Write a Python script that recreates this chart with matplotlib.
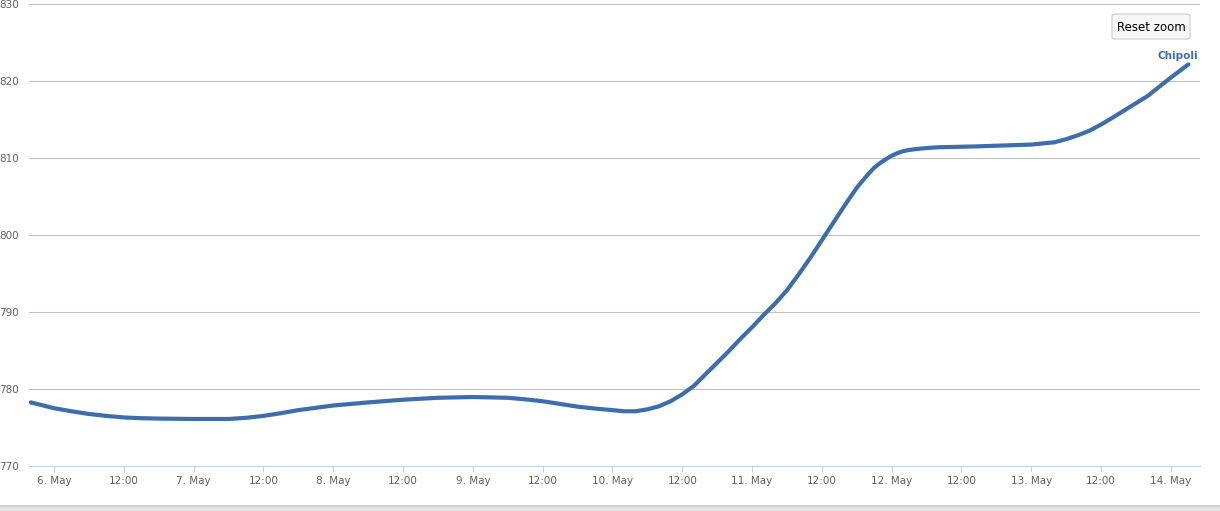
"""
Chipoli price over a week, spline-like line chart
"""

from datetime import datetime, timedelta

import matplotlib
matplotlib.use("Agg")
from matplotlib import pyplot as plt
from matplotlib import dates as mdates
from matplotlib.patches import FancyBboxPatch, Rectangle
from matplotlib.ticker import FuncFormatter, MultipleLocator

# hours after 6 May 00:00
hours = [-4, 0, 3, 6, 9, 12, 15, 18, 24, 30, 33, 36, 39, 42, 45, 48, 54, 60,
         66, 72, 78, 81, 84, 87, 90, 93, 96, 98, 100, 102, 104, 106, 108,
         110, 112, 114, 116, 118, 120, 122, 124, 126, 128, 130, 132, 134,
         136, 138, 140, 141, 142, 143, 144, 145, 146, 147, 148, 150, 152,
         158, 164, 168, 172, 174, 176, 178, 180, 182, 185, 188, 190, 192,
         195]
values = [778.25, 777.5, 777.1, 776.75, 776.5, 776.3, 776.2, 776.15, 776.1,
          776.1, 776.25, 776.5, 776.85, 777.25, 777.55, 777.85, 778.25,
          778.6, 778.85, 778.95, 778.85, 778.65, 778.4, 778.05, 777.7, 777.45,
          777.25, 777.1, 777.1, 777.35, 777.75, 778.4, 779.3, 780.4, 781.9,
          783.4, 784.9, 786.5, 788.0, 789.6, 791.1, 792.8, 794.85, 797.0,
          799.3, 801.6, 803.9, 806.1, 807.9, 808.7, 809.3, 809.8, 810.25,
          810.6, 810.85, 811.0, 811.1, 811.25, 811.35, 811.45, 811.6, 811.7,
          812.0, 812.4, 812.9, 813.5, 814.3, 815.2, 816.6, 818.0, 819.2,
          820.4, 822.1]
series_name = "Chipoli"
start = datetime(2013, 5, 6)
times = [start + timedelta(hours=h) for h in hours]

blue = "#3D6DAB"
grey_text = "#606060"

fig = plt.figure(figsize=(12.2, 5.11), dpi=100)
ax = fig.add_axes([29 / 1220, 45 / 511, 1171 / 1220, 462.5 / 511])

ax.plot(times, values, color=blue, lw=3, solid_capstyle="round",
        solid_joinstyle="round", zorder=3)

ax.set_xlim(start - timedelta(hours=4.3), start + timedelta(hours=197))
ax.set_ylim(770, 830)

# y grid
ax.yaxis.set_major_locator(MultipleLocator(10))
ax.grid(axis="y", color="#C0C0C0", lw=0.75)
ax.tick_params(axis="y", length=0, pad=7, labelsize=7.5, labelcolor=grey_text)

# x axis: ticks every 12 hours
ax.xaxis.set_major_locator(mdates.HourLocator(byhour=[0, 12]))


def fmt_date(x, pos):
    d = mdates.num2date(x)
    if d.hour == 0:
        return f"{d.day}. May"
    return d.strftime("%H:%M")


ax.xaxis.set_major_formatter(FuncFormatter(fmt_date))
ax.tick_params(axis="x", length=4, width=0.75, color="#C0D0E0", pad=3,
               labelsize=7.5, labelcolor=grey_text)

for side in ["top", "right", "left"]:
    ax.spines[side].set_visible(False)
ax.spines["bottom"].set_color("#C0D0E0")
ax.spines["bottom"].set_linewidth(0.75)

# series label at the end of the line
ax.annotate(series_name, xy=(times[-1], values[-1]), xytext=(-11, 8),
            textcoords="offset pixels", ha="center", va="center",
            color=blue, fontsize=7.5, fontweight="bold")

# reset zoom button
W, H = 1220, 511
btn = FancyBboxPatch((1112 / W, (H - 39) / H), 78 / W, 25 / H,
                     boxstyle="round,pad=0,rounding_size=0.003",
                     transform=fig.transFigure, facecolor="#F7F7F7",
                     edgecolor="#CCCCCC", lw=0.8)
fig.patches.append(btn)
fig.text(1151 / W, (H - 27) / H, "Reset zoom", ha="center", va="center",
         fontsize=8.5, color="black")

# grey strip at the bottom of the page
fig.patches.append(Rectangle((0, 0), 1, 5 / H, transform=fig.transFigure,
                             facecolor="#E4E4E4", edgecolor="none"))
fig.patches.append(Rectangle((0, 4 / H), 1, 2 / H, transform=fig.transFigure,
                             facecolor="#D0D0D0", edgecolor="none"))

fig.savefig("out.png", dpi=100)
